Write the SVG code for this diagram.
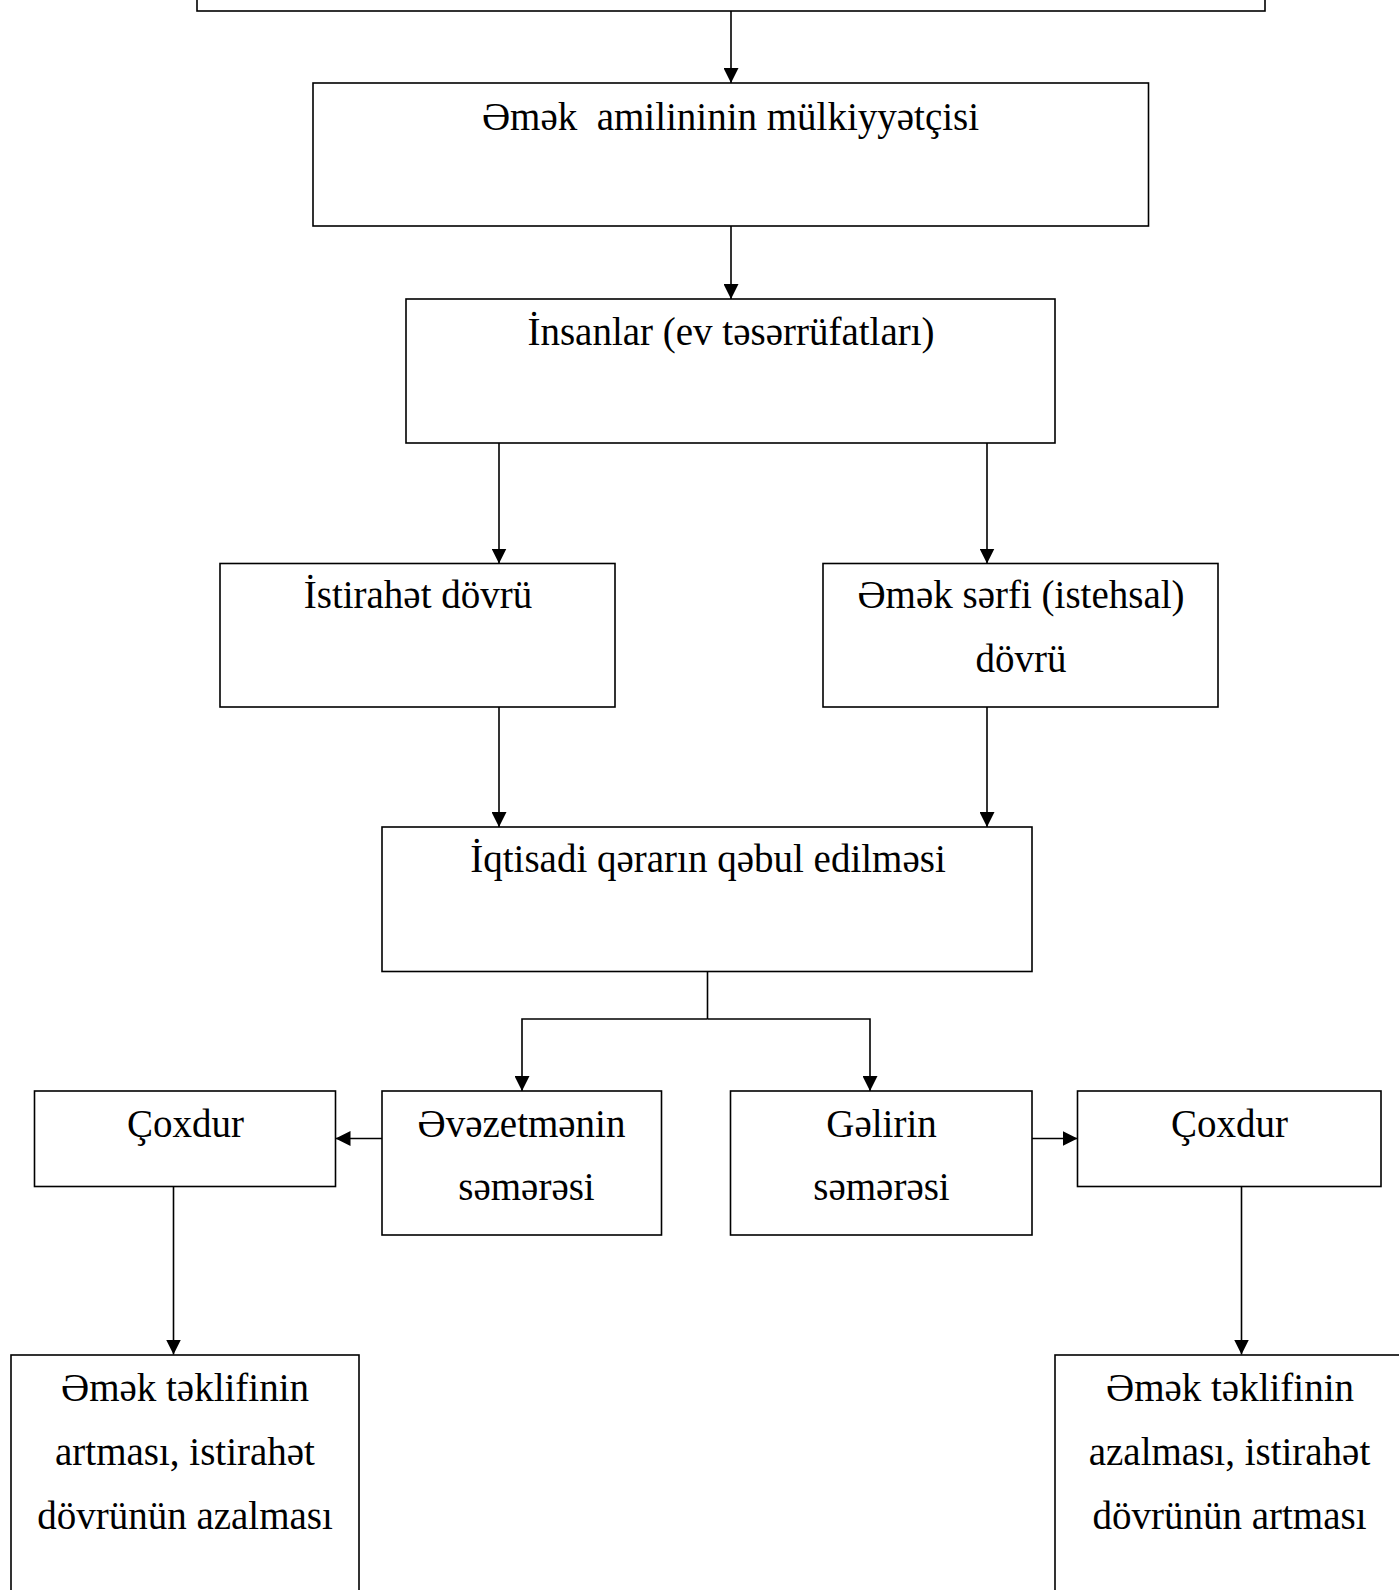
<svg xmlns="http://www.w3.org/2000/svg" width="1399" height="1590" viewBox="0 0 1399 1590">
<defs>
<style>
.box{fill:#fff;stroke:#000;stroke-width:1.6}
.t{font-family:"Liberation Serif","Times New Roman",serif;font-size:39px;fill:#000;text-anchor:middle;white-space:pre}
.c{fill:none;stroke:#000;stroke-width:1.6}
</style>
<marker id="ah" viewBox="0 0 15 15" refX="15" refY="7.5" markerWidth="15" markerHeight="15" markerUnits="userSpaceOnUse" orient="auto">
<path d="M0,0 L15,7.5 L0,15 z" fill="#000"/>
</marker>
</defs>
<rect width="1399" height="1590" fill="#fff"/>
<g id="connectors">
<path class="c" d="M731,11 V83" marker-end="url(#ah)"/>
<path class="c" d="M731,226 V299" marker-end="url(#ah)"/>
<path class="c" d="M499,443 V563.5" marker-end="url(#ah)"/>
<path class="c" d="M987,443 V563.5" marker-end="url(#ah)"/>
<path class="c" d="M499,707 V827" marker-end="url(#ah)"/>
<path class="c" d="M987,707 V827" marker-end="url(#ah)"/>
<path class="c" d="M707.5,971.5 V1019"/>
<path class="c" d="M707.5,1019 H522 V1091" marker-end="url(#ah)"/>
<path class="c" d="M707.5,1019 H870 V1091" marker-end="url(#ah)"/>
<path class="c" d="M382,1138.5 H335.5" marker-end="url(#ah)"/>
<path class="c" d="M1032,1138.5 H1077.5" marker-end="url(#ah)"/>
<path class="c" d="M173.5,1186 V1354.5" marker-end="url(#ah)"/>
<path class="c" d="M1241.5,1186 V1354.5" marker-end="url(#ah)"/>
</g>
<g id="node-top"><rect class="box" x="197" y="-20" width="1068" height="31"/></g>
<g id="node-owner"><rect class="box" x="313" y="83" width="835.5" height="143"/>
<text class="t" x="730.5" y="130" xml:space="preserve">Əmək  amilininin mülkiyyətçisi</text></g>
<g id="node-people"><rect class="box" x="406" y="299" width="649" height="144"/>
<text class="t" x="731" y="345">İnsanlar (ev təsərrüfatları)</text></g>
<g id="node-rest"><rect class="box" x="220" y="563.5" width="395" height="143.5"/>
<text class="t" x="418" y="608">İstirahət dövrü</text></g>
<g id="node-work"><rect class="box" x="823" y="563.5" width="395" height="143.5"/>
<text class="t" x="1021" y="608">Əmək sərfi (istehsal)</text>
<text class="t" x="1021" y="672">dövrü</text></g>
<g id="node-decision"><rect class="box" x="382" y="827" width="650" height="144.5"/>
<text class="t" x="708" y="872">İqtisadi qərarın qəbul edilməsi</text></g>
<g id="node-more-left"><rect class="box" x="34.5" y="1091" width="301" height="95.5"/>
<text class="t" x="185.5" y="1136.5">Çoxdur</text></g>
<g id="node-substitution"><rect class="box" x="382" y="1091" width="279.5" height="144"/>
<text class="t" x="521.5" y="1136.5">Əvəzetmənin</text>
<text class="t" x="526.5" y="1200">səmərəsi</text></g>
<g id="node-income"><rect class="box" x="730.5" y="1091" width="301.5" height="144"/>
<text class="t" x="881.5" y="1136.5">Gəlirin</text>
<text class="t" x="881.5" y="1200">səmərəsi</text></g>
<g id="node-more-right"><rect class="box" x="1077.5" y="1091" width="303.5" height="95.5"/>
<text class="t" x="1229.5" y="1136.5">Çoxdur</text></g>
<g id="node-result-left"><rect class="box" x="11" y="1355" width="348" height="300"/>
<text class="t" x="185" y="1401">Əmək təklifinin</text>
<text class="t" x="185" y="1465">artması, istirahət</text>
<text class="t" x="185" y="1529">dövrünün azalması</text></g>
<g id="node-result-right"><rect class="box" x="1055" y="1355" width="400" height="300"/>
<text class="t" x="1230" y="1401">Əmək təklifinin</text>
<text class="t" x="1229.5" y="1465">azalması, istirahət</text>
<text class="t" x="1229.5" y="1529">dövrünün artması</text></g>
</svg>
